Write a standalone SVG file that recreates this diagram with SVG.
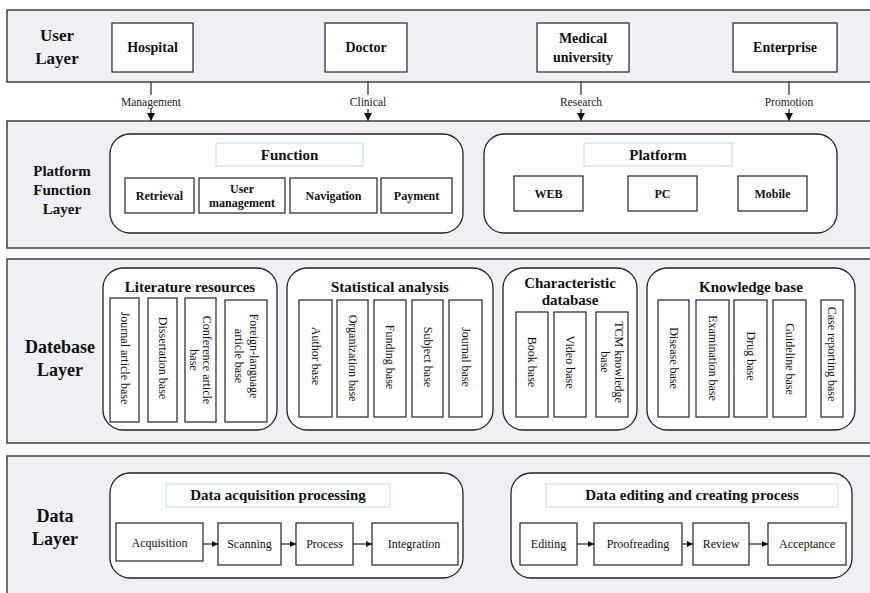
<svg xmlns="http://www.w3.org/2000/svg" width="870" height="593" viewBox="0 0 870 593">
  <style>
    text { font-family: "Liberation Serif", "DejaVu Serif", serif; fill: #111; text-anchor: middle; }
    .band { fill: #eef0f5; stroke: #333; stroke-width: 1.4; }
    .box { fill: #fff; stroke: #222; stroke-width: 1.2; }
    .group { fill: #fff; stroke: #222; stroke-width: 1.3; }
    .hdr { fill: #fff; stroke: #c6e2ee; stroke-width: 1.2; }
    .layer { font-weight: 700; font-size: 17px; }
    .big { font-weight: 700; font-size: 15px; }
    .user { font-weight: 700; font-size: 14px; }
    .sub { font-weight: 700; font-size: 12px; }
    .txt { font-weight: 400; font-size: 12px; }
    .lbl { font-weight: 400; font-size: 11.5px; fill: #222; }
    .line { stroke: #222; stroke-width: 1.2; fill: none; }
  </style>
  <defs>
    <marker id="arrow" viewBox="0 0 10 10" refX="10" refY="5" markerWidth="6" markerHeight="6" markerUnits="userSpaceOnUse" orient="auto">
      <path d="M0,0 L10,5 L0,10 Z" fill="#111"/>
    </marker>
    <marker id="arrowDown" viewBox="0 0 10 10" refX="10" refY="5" markerWidth="8" markerHeight="8" markerUnits="userSpaceOnUse" orient="auto">
      <path d="M0,0 L10,5 L0,10 Z" fill="#111"/>
    </marker>
  </defs>

  <!-- layer bands -->
  <rect class="band" x="7" y="10" width="875" height="72"/>
  <rect class="band" x="7" y="121" width="875" height="127"/>
  <rect class="band" x="7" y="259" width="875" height="184"/>
  <rect class="band" x="7" y="456" width="875" height="150"/>

  <!-- layer titles -->
  <g id="user-layer-title">
    <text class="layer" x="57" y="41">User</text>
    <text class="layer" x="57" y="64">Layer</text>
  </g>
  <g id="platform-layer-title">
    <text class="big" x="62" y="176">Platform</text>
    <text class="big" x="62" y="195">Function</text>
    <text class="big" x="62" y="214">Layer</text>
  </g>
  <g id="database-layer-title">
    <text class="layer" x="60" y="353" style="font-size:18px">Datebase</text>
    <text class="layer" x="60" y="376" style="font-size:18px">Layer</text>
  </g>
  <g id="data-layer-title">
    <text class="layer" x="55" y="522" style="font-size:18px">Data</text>
    <text class="layer" x="55" y="545" style="font-size:18px">Layer</text>
  </g>

  <!-- user layer -->
  <g id="hospital">
    <rect class="box" x="112" y="23" width="81" height="49"/>
    <text class="user" x="152.5" y="52">Hospital</text>
  </g>
  <g id="doctor">
    <rect class="box" x="325" y="23" width="82" height="49"/>
    <text class="user" x="366" y="52">Doctor</text>
  </g>
  <g id="medical-university">
    <rect class="box" x="537" y="23" width="92" height="49"/>
    <text class="user" x="583" y="43">Medical</text>
    <text class="user" x="583" y="62">university</text>
  </g>
  <g id="enterprise">
    <rect class="box" x="733" y="23" width="104" height="49"/>
    <text class="user" x="785" y="52">Enterprise</text>
  </g>

  <!-- platform function layer -->
  <g id="function">
    <rect class="group" x="110" y="134" width="353" height="99" rx="20" ry="20"/>
    <rect class="hdr" x="216" y="143" width="147" height="23"/>
    <text class="big" x="289.5" y="160">Function</text>
  </g>
  <g id="retrieval">
    <rect class="box" x="125" y="178" width="69" height="35"/>
    <text class="sub" x="159.5" y="200">Retrieval</text>
  </g>
  <g id="user-management">
    <rect class="box" x="199" y="178" width="86" height="35"/>
    <text class="sub" x="242" y="193">User</text>
    <text class="sub" x="242" y="207">management</text>
  </g>
  <g id="navigation">
    <rect class="box" x="290" y="178" width="87" height="35"/>
    <text class="sub" x="333.5" y="200">Navigation</text>
  </g>
  <g id="payment">
    <rect class="box" x="381" y="178" width="71" height="35"/>
    <text class="sub" x="416.5" y="200">Payment</text>
  </g>

  <g id="platform">
    <rect class="group" x="484" y="134" width="353" height="99" rx="20" ry="20"/>
    <rect class="hdr" x="584" y="143" width="148" height="23"/>
    <text class="big" x="658" y="160">Platform</text>
  </g>
  <g id="web">
    <rect class="box" x="514" y="176" width="69" height="35"/>
    <text class="sub" x="548.5" y="198">WEB</text>
  </g>
  <g id="pc">
    <rect class="box" x="628" y="176" width="69" height="35"/>
    <text class="sub" x="662.5" y="198">PC</text>
  </g>
  <g id="mobile">
    <rect class="box" x="738" y="176" width="69" height="35"/>
    <text class="sub" x="772.5" y="198">Mobile</text>
  </g>

  <!-- database layer -->
  <g id="literature-resources">
    <rect class="group" x="103" y="268" width="174" height="162" rx="20" ry="20"/>
    <text class="big" x="190" y="292">Literature resources</text>
  </g>
  <g id="journal-article-base">
    <rect class="box" x="110" y="298" width="29" height="124"/>
    <text class="txt" transform="translate(124.5,358) rotate(90)" y="4">Journal article base</text>
  </g>
  <g id="dissertation-base">
    <rect class="box" x="148" y="298" width="29" height="124"/>
    <text class="txt" transform="translate(162.5,358) rotate(90)" y="4">Dissertation base</text>
  </g>
  <g id="conference-article-base">
    <rect class="box" x="185" y="298" width="31" height="124"/>
    <text class="txt" transform="translate(200.5,360) rotate(90)" y="-2.5">Conference article</text>
    <text class="txt" transform="translate(200.5,360) rotate(90)" y="10.5">base</text>
  </g>
  <g id="foreign-language-article-base">
    <rect class="box" x="225" y="300" width="42" height="122"/>
    <text class="txt" transform="translate(246,356) rotate(90)" y="-4">Foreign-language</text>
    <text class="txt" transform="translate(246,356) rotate(90)" y="11">article base</text>
  </g>

  <g id="statistical-analysis">
    <rect class="group" x="287" y="268" width="206" height="162" rx="20" ry="20"/>
    <text class="big" x="390" y="292">Statistical analysis</text>
  </g>
  <g id="author-base">
    <rect class="box" x="299" y="300" width="33" height="117"/>
    <text class="txt" transform="translate(315.5,356) rotate(90)" y="4">Author base</text>
  </g>
  <g id="organization-base">
    <rect class="box" x="337" y="300" width="31" height="117"/>
    <text class="txt" transform="translate(352.5,358) rotate(90)" y="4">Organization base</text>
  </g>
  <g id="funding-base">
    <rect class="box" x="374" y="300" width="32" height="117"/>
    <text class="txt" transform="translate(390,357) rotate(90)" y="4">Funding base</text>
  </g>
  <g id="subject-base">
    <rect class="box" x="412" y="300" width="31" height="117"/>
    <text class="txt" transform="translate(427.5,357) rotate(90)" y="4">Subject base</text>
  </g>
  <g id="journal-base">
    <rect class="box" x="449" y="300" width="33" height="117"/>
    <text class="txt" transform="translate(465.5,357) rotate(90)" y="4">Journal base</text>
  </g>

  <g id="characteristic-database">
    <rect class="group" x="503" y="268" width="134" height="162" rx="20" ry="20"/>
    <text class="big" x="570" y="288">Characteristic</text>
    <text class="big" x="570" y="305">database</text>
  </g>
  <g id="book-base">
    <rect class="box" x="516" y="312" width="32" height="105"/>
    <text class="txt" transform="translate(532,362) rotate(90)" y="4">Book base</text>
  </g>
  <g id="video-base">
    <rect class="box" x="554" y="312" width="32" height="105"/>
    <text class="txt" transform="translate(570,362) rotate(90)" y="4">Video base</text>
  </g>
  <g id="tcm-knowledge-base">
    <rect class="box" x="596" y="312" width="32" height="105"/>
    <text class="txt" transform="translate(612,362) rotate(90)" y="-3">TCM knowledge</text>
    <text class="txt" transform="translate(612,362) rotate(90)" y="11">base</text>
  </g>

  <g id="knowledge-base">
    <rect class="group" x="647" y="268" width="208" height="162" rx="20" ry="20"/>
    <text class="big" x="751" y="292">Knowledge base</text>
  </g>
  <g id="disease-base">
    <rect class="box" x="658" y="300" width="31" height="117"/>
    <text class="txt" transform="translate(673.5,358) rotate(90)" y="4">Disease base</text>
  </g>
  <g id="examination-base">
    <rect class="box" x="696" y="300" width="33" height="117"/>
    <text class="txt" transform="translate(712.5,358) rotate(90)" y="4">Examination base</text>
  </g>
  <g id="drug-base">
    <rect class="box" x="734" y="300" width="33" height="117"/>
    <text class="txt" transform="translate(750.5,356) rotate(90)" y="4">Drug base</text>
  </g>
  <g id="guideline-base">
    <rect class="box" x="773" y="300" width="33" height="117"/>
    <text class="txt" transform="translate(789.5,359) rotate(90)" y="4">Guideline base</text>
  </g>
  <g id="case-reporting-base">
    <rect class="box" x="821" y="300" width="22" height="117"/>
    <text class="txt" transform="translate(832,354) rotate(90)" y="4">Case reporting base</text>
  </g>

  <!-- data layer -->
  <g id="data-acquisition-processing">
    <rect class="group" x="110" y="473" width="353" height="105" rx="20" ry="20"/>
    <rect class="hdr" x="166" y="484" width="224" height="23"/>
    <text class="big" x="278" y="500">Data acquisition processing</text>
  </g>
  <g id="acquisition">
    <rect class="box" x="116" y="523" width="87" height="38"/>
    <text class="txt" x="159.5" y="547">Acquisition</text>
  </g>
  <g id="scanning">
    <rect class="box" x="218" y="523" width="63" height="42"/>
    <text class="txt" x="249.5" y="548">Scanning</text>
  </g>
  <g id="process">
    <rect class="box" x="296" y="523" width="57" height="42"/>
    <text class="txt" x="324.5" y="548">Process</text>
  </g>
  <g id="integration">
    <rect class="box" x="372" y="523" width="86" height="42"/>
    <text class="txt" x="414" y="548">Integration</text>
  </g>

  <g id="data-editing-and-creating-process">
    <rect class="group" x="511" y="473" width="341" height="105" rx="20" ry="20"/>
    <rect class="hdr" x="546" y="484" width="292" height="23"/>
    <text class="big" x="692" y="500">Data editing and creating process</text>
  </g>
  <g id="editing">
    <rect class="box" x="520" y="523" width="57" height="42"/>
    <text class="txt" x="548.5" y="548">Editing</text>
  </g>
  <g id="proofreading">
    <rect class="box" x="594" y="523" width="88" height="42"/>
    <text class="txt" x="638" y="548">Proofreading</text>
  </g>
  <g id="review">
    <rect class="box" x="693" y="523" width="56" height="42"/>
    <text class="txt" x="721" y="548">Review</text>
  </g>
  <g id="acceptance">
    <rect class="box" x="768" y="523" width="78" height="42"/>
    <text class="txt" x="807" y="548">Acceptance</text>
  </g>

  <!-- connectors -->
  <g id="connectors">
    <line class="line" x1="151" y1="82" x2="151" y2="95"/>
    <line class="line" x1="151" y1="109" x2="151" y2="121" marker-end="url(#arrowDown)"/>
    <text class="lbl" x="151" y="106">Management</text>

    <line class="line" x1="368" y1="82" x2="368" y2="95"/>
    <line class="line" x1="368" y1="109" x2="368" y2="121" marker-end="url(#arrowDown)"/>
    <text class="lbl" x="368" y="106">Clinical</text>

    <line class="line" x1="581" y1="82" x2="581" y2="95"/>
    <line class="line" x1="581" y1="109" x2="581" y2="121" marker-end="url(#arrowDown)"/>
    <text class="lbl" x="581" y="106">Research</text>

    <line class="line" x1="789" y1="82" x2="789" y2="95"/>
    <line class="line" x1="789" y1="109" x2="789" y2="121" marker-end="url(#arrowDown)"/>
    <text class="lbl" x="789" y="106">Promotion</text>

    <line class="line" x1="203" y1="544" x2="218" y2="544" marker-end="url(#arrow)"/>
    <line class="line" x1="281" y1="544" x2="296" y2="544" marker-end="url(#arrow)"/>
    <line class="line" x1="353" y1="544" x2="372" y2="544" marker-end="url(#arrow)"/>

    <line class="line" x1="577" y1="544" x2="594" y2="544" marker-end="url(#arrow)"/>
    <line class="line" x1="682" y1="544" x2="693" y2="544" marker-end="url(#arrow)"/>
    <line class="line" x1="749" y1="544" x2="768" y2="544" marker-end="url(#arrow)"/>
  </g>
</svg>
